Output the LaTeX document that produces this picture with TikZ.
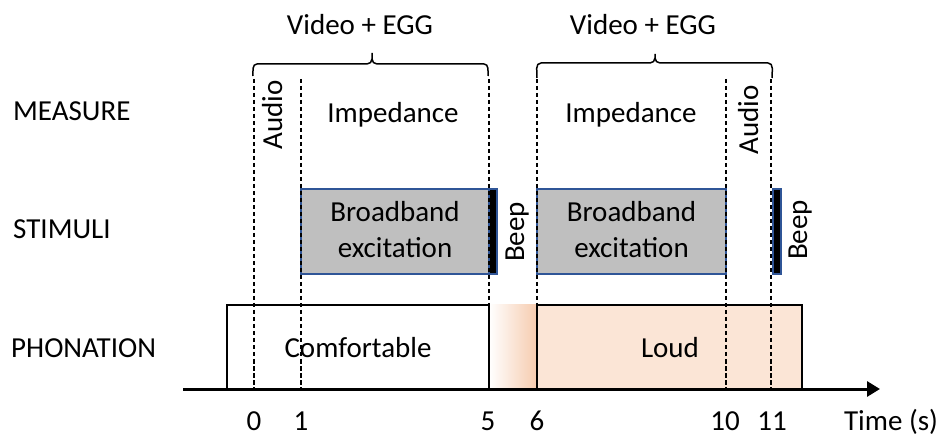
\documentclass[tikz,border=0pt]{standalone}
\usepackage{fontspec}
\setmainfont{Carlito}
\usetikzlibrary{arrows.meta}
\definecolor{grayfill}{HTML}{BFBFBF}
\definecolor{boxblue}{HTML}{2F5597}
\definecolor{loudfill}{HTML}{FBE5D6}
\definecolor{gradend}{HTML}{F6CBAE}
\begin{document}
\begin{tikzpicture}[x=1pt,y=-1pt,
  lbl/.style={font=\fontsize{29}{36}\selectfont, inner sep=0pt, anchor=base},
  guide/.style={dash pattern=on 4.5pt off 2.5pt, line width=1.4pt},
  stimbox/.style={fill=grayfill, draw=boxblue, line width=1.2pt},
  beepbar/.style={fill=black, draw=boxblue, line width=1.2pt},
  phonbox/.style={draw=black, line width=1.5pt},
  bracepath/.style={line width=1.5pt},
  axisline/.style={line width=3pt, -{Triangle[length=13pt,width=15pt]}}]
\useasboundingbox (0,0) rectangle (942,435);

% phonation boxes
\fill[left color=white, right color=gradend] (489,305) rectangle (537,389);
\draw[phonbox] (227,389) -- (227,305) -- (489,305) -- (489,389);
\draw[phonbox, fill=loudfill] (537,305) rectangle (802,389);

% stimuli
\draw[stimbox] (301,189) rectangle (489,274);
\draw[stimbox] (537,189) rectangle (726,274);
\draw[beepbar] (489,189) rectangle (497,274);
\draw[beepbar] (773,189) rectangle (781,274);

% dashed guides
\foreach \gx in {254,301,489,537,726,771}
  \draw[guide] (\gx,79) -- (\gx,389);

% braces
\draw[bracepath] (253,76) to[out=90,in=180] (257,64) -- (367,64) to[out=0,in=-90] (372,59) -- (372,53)
  (372,59) to[out=-90,in=180] (377,64) -- (484,64) to[out=0,in=90] (488,76);
\draw[bracepath] (537,78) to[out=90,in=180] (541,63) -- (650,63) to[out=0,in=-90] (655,58) -- (655,54)
  (655,58) to[out=-90,in=180] (660,63) -- (768,63) to[out=0,in=90] (772,78);

% axis
\coordinate (axstart) at (183,389);
\coordinate (axend) at (880,389);
\draw[axisline] (axstart) -- (axend);

% texts
\node[lbl] (vid1) at (360,35) {Video + EGG};
\node[lbl] (vid2) at (643,35) {Video + EGG};
\node[lbl, anchor=base west] (measure) at (13,121) {MEASURE};
\node[lbl, anchor=base west] (stimuli) at (13,239) {STIMULI};
\node[lbl, anchor=base west] (phonation) at (11,357) {PHONATION};
\node[lbl] (imp1) at (393,123) {Impedance};
\node[lbl] (imp2) at (631,123) {Impedance};
\node[lbl, rotate=90] (audio1) at (282,115) {Audio};
\node[lbl, rotate=90] (audio2) at (758,120) {Audio};
\node[lbl, rotate=90] (beep1) at (524,232) {Beep};
\node[lbl, rotate=90] (beep2) at (807,230) {Beep};
\node[lbl, anchor=center, align=center] (bb1) at (395,230) {Broadband\\excitation};
\node[lbl, anchor=center, align=center] (bb2) at (631.5,230) {Broadband\\excitation};
\node[lbl] (comf) at (358,357) {Comfortable};
\node[lbl] (loud) at (670,357) {Loud};
\node[lbl] (t0) at (254,430) {0};
\node[lbl] (t1) at (301,430) {1};
\node[lbl] (t5) at (488,430) {5};
\node[lbl] (t6) at (537,430) {6};
\node[lbl] (t10) at (725,430) {10};
\node[lbl] (t11) at (772,430) {11};
\node[lbl] (tlabel) at (891,430) {Time (s)};
\end{tikzpicture}
\end{document}
